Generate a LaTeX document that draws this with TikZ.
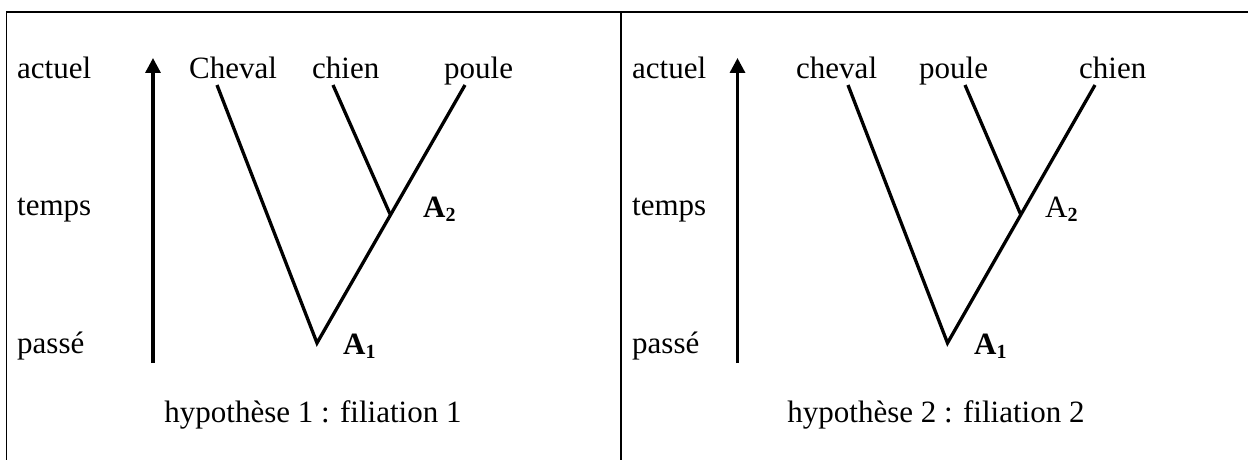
\documentclass[tikz,border=0pt]{standalone}
\usepackage{fontspec}
\setmainfont{Liberation Serif}
\usetikzlibrary{arrows.meta}
\newcommand{\subnum}[1]{\raisebox{-4pt}{\fontsize{20}{20}\selectfont\bfseries #1}}
\begin{document}
\begin{tikzpicture}[x=1pt,y=-1pt,
  lbl/.style={anchor=base west,inner sep=0pt,font=\fontsize{31}{36}\selectfont},
  captext/.style={anchor=base,inner sep=0pt,font=\fontsize{31}{36}\selectfont},
  branch/.style={line width=3.3pt,line join=miter},
  timearrow/.style={line width=3.3pt,-{Triangle[width=15pt,length=15pt]}},
  frame/.style={line width=1.5pt}]
\useasboundingbox (0,0) rectangle (1248,460);
% frame
\coordinate (fbl) at (6.5,460);
\coordinate (ftl) at (6.5,12);
\coordinate (ftr) at (1248,12);
\coordinate (mt) at (621,12);
\coordinate (mb) at (621,460);
\draw[frame] (fbl) -- (ftl) -- (ftr);
\draw[frame] (mt) -- (mb);

% ---------- left panel ----------
\node[lbl] (l-act) at (17,78) {actuel};
\node[lbl] (l-tmp) at (17,215) {temps};
\node[lbl] (l-pas) at (17,353) {passé};
\coordinate (l-ab) at (153,363);
\coordinate (l-at) at (153,58);
\draw[timearrow] (l-ab) -- (l-at);
\node[lbl] (l-cheval) at (189,78) {Cheval};
\node[lbl] (l-chien) at (312,78) {chien};
\node[lbl] (l-poule) at (444,78) {poule};
\coordinate (l-t1) at (217,85);
\coordinate (l-t2) at (333,85);
\coordinate (l-t3) at (465,85);
\coordinate (l-A1) at (317,343);
\coordinate (l-A2) at (390,214);
\draw[branch] (l-t1) -- (l-A1) -- (l-t3);
\draw[branch] (l-t2) -- (l-A2);
\node[lbl] (l-a2) at (423,217) {\textbf{A}\subnum{2}};
\node[lbl] (l-a1) at (343,354) {\textbf{A}\subnum{1}};
\node[captext] (l-cap) at (313,422) {hypothèse 1 : filiation 1};

% ---------- right panel ----------
\node[lbl] (r-act) at (632,78) {actuel};
\node[lbl] (r-tmp) at (632,215) {temps};
\node[lbl] (r-pas) at (632,353) {passé};
\coordinate (r-ab) at (737.5,363);
\coordinate (r-at) at (737.5,58);
\draw[timearrow] (r-ab) -- (r-at);
\node[lbl] (r-cheval) at (796,78) {cheval};
\node[lbl] (r-poule) at (919,78) {poule};
\node[lbl] (r-chien) at (1079,78) {chien};
\coordinate (r-t1) at (848,85);
\coordinate (r-t2) at (965,85);
\coordinate (r-t3) at (1095,85);
\coordinate (r-A1) at (947.5,343);
\coordinate (r-A2) at (1020.5,214);
\draw[branch] (r-t1) -- (r-A1) -- (r-t3);
\draw[branch] (r-t2) -- (r-A2);
\node[lbl] (r-a2) at (1045,217) {A\subnum{2}};
\node[lbl] (r-a1) at (974,354) {\textbf{A}\subnum{1}};
\node[captext] (r-cap) at (936,422) {hypothèse 2 : filiation 2};
\end{tikzpicture}
\end{document}
